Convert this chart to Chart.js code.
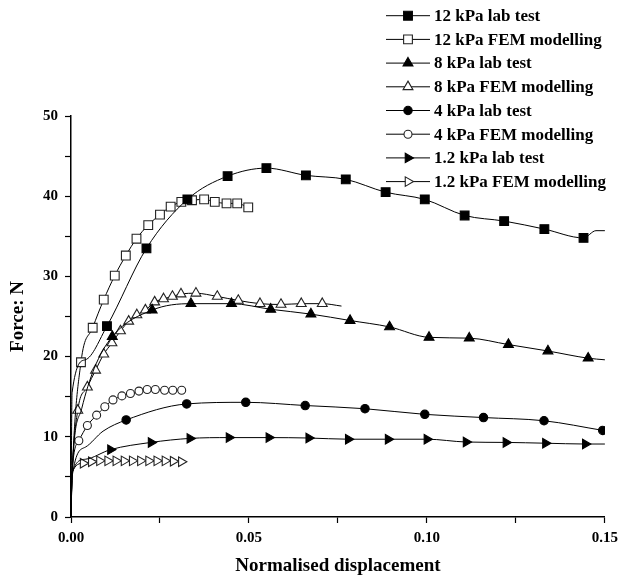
<!DOCTYPE html>
<html>
<head>
<meta charset="utf-8">
<script src="https://cdn.jsdelivr.net/npm/chart.js@4.4.1/dist/chart.umd.min.js"></script>
<style>
  html, body { margin: 0; padding: 0; background: #fff; }
  #wrap { width: 624px; height: 579px; }
</style>
</head>
<body>
<div id="wrap"><canvas id="forceChart" width="624" height="579"></canvas></div>
<script>
// values: lead = unmarked start, mark = points with symbols, tail = unmarked end
const seriesNames = ['12 kPa lab test', '12 kPa FEM modelling', '8 kPa lab test', '8 kPa FEM modelling',
                     '4 kPa lab test', '4 kPa FEM modelling', '1.2 kPa lab test', '1.2 kPa FEM modelling'];

const lab12LeadX = [0, 0.0003, 0.004];
const lab12LeadY = [0, 15.5, 19.6];
const lab12X = [0.0101, 0.0212, 0.0327, 0.0440, 0.0549, 0.0660, 0.0772, 0.0884, 0.0994, 0.1106, 0.1217, 0.1330, 0.1440];
const lab12Y = [23.8, 33.5, 39.6, 42.5, 43.5, 42.6, 42.1, 40.5, 39.6, 37.6, 36.9, 35.9, 34.8];
const lab12TailX = [0.1475, 0.15];
const lab12TailY = [35.7, 35.7];

const fem12LeadX = [0, 0.0003];
const fem12LeadY = [0, 5];
const fem12X = [0.0028, 0.0061, 0.0092, 0.0123, 0.0154, 0.0184, 0.0217, 0.0250, 0.0280, 0.0310, 0.0340, 0.0374, 0.0404, 0.0437, 0.0467, 0.0498];
const fem12Y = [19.3, 23.6, 27.1, 30.1, 32.6, 34.7, 36.4, 37.7, 38.7, 39.3, 39.5, 39.6, 39.3, 39.1, 39.1, 38.6];

const lab8LeadX = [0, 0.0003, 0.003, 0.0065];
const lab8LeadY = [0, 5.5, 13.5, 18.5];
const lab8X = [0.0116, 0.0228, 0.0337, 0.0451, 0.0561, 0.0674, 0.0784, 0.0895, 0.1006, 0.1119, 0.1229, 0.1340, 0.1453];
const lab8Y = [22.5, 25.8, 26.6, 26.6, 25.9, 25.3, 24.5, 23.7, 22.4, 22.3, 21.5, 20.7, 19.8];
const lab8TailX = [0.15];
const lab8TailY = [19.6];

const fem8LeadX = [0, 0.0003];
const fem8LeadY = [0, 5];
const fem8X = [0.0019, 0.0046, 0.0069, 0.0092, 0.0115, 0.0139, 0.0162, 0.0185, 0.0209, 0.0235, 0.0260, 0.0285, 0.0309, 0.0351, 0.0411, 0.0470, 0.0531, 0.0590, 0.0647, 0.0706];
const fem8Y = [13.3, 16.2, 18.3, 20.3, 21.7, 23.2, 24.4, 25.2, 25.8, 26.8, 27.2, 27.5, 27.8, 27.9, 27.5, 27.0, 26.6, 26.5, 26.6, 26.6];
const fem8TailX = [0.076];
const fem8TailY = [26.3];

const lab4LeadX = [0, 0.0003, 0.004, 0.009];
const lab4LeadY = [0, 5, 8.7, 10.7];
const lab4X = [0.0155, 0.0325, 0.0491, 0.0658, 0.0826, 0.0994, 0.1159, 0.1329, 0.1494];
const lab4Y = [12.1, 14.1, 14.3, 13.9, 13.5, 12.8, 12.4, 12.0, 10.8];

const fem4LeadX = [0, 0.0003];
const fem4LeadY = [0, 5.5];
const fem4X = [0.0022, 0.0046, 0.0072, 0.0095, 0.0118, 0.0143, 0.0167, 0.0191, 0.0214, 0.0237, 0.0263, 0.0286, 0.0311];
const fem4Y = [9.5, 11.4, 12.7, 13.75, 14.6, 15.1, 15.4, 15.7, 15.9, 15.9, 15.8, 15.8, 15.8];

const lab1LeadX = [0, 0.0003, 0.004];
const lab1LeadY = [0, 5.5, 7.2];
const lab1X = [0.0111, 0.0225, 0.0334, 0.0444, 0.0556, 0.0668, 0.0779, 0.0891, 0.1000, 0.1110, 0.1222, 0.1333, 0.1445];
const lab1Y = [8.4, 9.3, 9.8, 9.9, 9.9, 9.85, 9.7, 9.7, 9.7, 9.35, 9.3, 9.2, 9.1];
const lab1TailX = [0.15];
const lab1TailY = [9.1];

const fem1LeadX = [0, 0.0003];
const fem1LeadY = [0, 5.5];
const fem1X = [0.0034, 0.0057, 0.0080, 0.0103, 0.0126, 0.0149, 0.0172, 0.0195, 0.0218, 0.0241, 0.0264, 0.0287, 0.0310];
const fem1Y = [6.7, 6.9, 7.0, 7.0, 7.0, 7.0, 7.0, 7.0, 7.0, 7.0, 7.0, 6.95, 6.9];

const xTicks = [0, 0.05, 0.10, 0.15];
const yTicks = [0, 10, 20, 30, 40, 50];

function pts(xs, ys) {
  return xs.map((x, i) => ({ x: x, y: ys[i] }));
}

function makeSeries(label, lead, mark, tail, style, rot, rad, filled) {
  const data = pts(lead[0], lead[1]).concat(pts(mark[0], mark[1]), pts(tail[0], tail[1]));
  const first = lead[0].length, last = first + mark[0].length;
  return {
    label: label,
    data: data,
    borderColor: '#000',
    borderWidth: 1,
    pointStyle: style,
    pointRotation: rot,
    pointBackgroundColor: filled ? '#000' : '#fff',
    pointBorderColor: filled ? '#000' : '#222',
    pointBorderWidth: 1.1,
    pointRadius: (c) => (c.dataIndex >= first && c.dataIndex < last) ? rad : 0,
    pointHoverRadius: 0,
    cubicInterpolationMode: 'monotone',
    _legendRadius: rad,
    _filled: filled
  };
}

const datasets = [
  makeSeries(seriesNames[0], [lab12LeadX, lab12LeadY], [lab12X, lab12Y], [lab12TailX, lab12TailY], 'rect', 0, 6.2, true),
  makeSeries(seriesNames[1], [fem12LeadX, fem12LeadY], [fem12X, fem12Y], [[], []], 'rect', 0, 6.2, false),
  makeSeries(seriesNames[2], [lab8LeadX, lab8LeadY], [lab8X, lab8Y], [lab8TailX, lab8TailY], 'triangle', 0, 5.7, true),
  makeSeries(seriesNames[3], [fem8LeadX, fem8LeadY], [fem8X, fem8Y], [fem8TailX, fem8TailY], 'triangle', 0, 5.7, false),
  makeSeries(seriesNames[4], [lab4LeadX, lab4LeadY], [lab4X, lab4Y], [[], []], 'circle', 0, 4.2, true),
  makeSeries(seriesNames[5], [fem4LeadX, fem4LeadY], [fem4X, fem4Y], [[], []], 'circle', 0, 4, false),
  makeSeries(seriesNames[6], [lab1LeadX, lab1LeadY], [lab1X, lab1Y], [lab1TailX, lab1TailY], 'triangle', 90, 5.5, true),
  makeSeries(seriesNames[7], [fem1LeadX, fem1LeadY], [fem1X, fem1Y], [[], []], 'triangle', 90, 5.5, false)
];

// legend drawn by hand in the top right corner, over the plot
const cornerLegend = {
  id: 'cornerLegend',
  afterDraw(chart) {
    const ctx = chart.ctx;
    ctx.save();
    ctx.font = 'bold 17px "Liberation Serif", "Times New Roman", serif';
    ctx.textBaseline = 'middle';
    ctx.textAlign = 'left';
    chart.data.datasets.forEach((ds, i) => {
      const y = 15.7 + i * 23.7;
      ctx.strokeStyle = '#000';
      ctx.lineWidth = 1;
      ctx.beginPath();
      ctx.moveTo(386, y);
      ctx.lineTo(430, y);
      ctx.stroke();
      ctx.fillStyle = ds._filled ? '#000' : '#fff';
      ctx.strokeStyle = ds._filled ? '#000' : '#222';
      ctx.lineWidth = 1.1;
      Chart.helpers.drawPoint(ctx, {
        pointStyle: ds.pointStyle, rotation: ds.pointRotation,
        radius: ds._legendRadius, borderWidth: 1.1
      }, 408, y);
      ctx.fillStyle = '#000';
      ctx.fillText(ds.label, 434, y + 1);
    });
    ctx.restore();
  }
};

const serif = '"Liberation Serif", "Times New Roman", serif';

new Chart(document.getElementById('forceChart'), {
  type: 'line',
  data: { datasets: datasets },
  plugins: [cornerLegend],
  options: {
    responsive: false,
    animation: false,
    layout: { padding: { top: 116, right: 16, left: 0, bottom: 0 } },
    plugins: { legend: { display: false }, tooltip: { enabled: false } },
    scales: {
      x: {
        type: 'linear',
        min: 0, max: 0.15,
        afterFit: (s) => { s.height = 62; },
        ticks: {
          stepSize: 0.025,
          autoSkip: false,
          maxRotation: 0,
          padding: 6,
          color: '#000',
          font: { family: serif, size: 15, weight: 'bold' },
          callback: (v) => xTicks.some((t) => Math.abs(t - v) < 1e-9) ? v.toFixed(2) : ''
        },
        grid: { drawOnChartArea: false, drawTicks: true, tickLength: 6, color: '#000', tickWidth: 1.2 },
        border: { display: true, color: '#000', width: 1.5 },
        title: {
          display: true, text: 'Normalised displacement', color: '#000',
          font: { family: serif, size: 19, weight: 'bold' },
          padding: { top: 0, bottom: 2 }
        }
      },
      y: {
        min: 0, max: 50,
        afterFit: (s) => { s.width = 71; },
        ticks: {
          stepSize: 5,
          autoSkip: false,
          padding: 7,
          color: '#000',
          font: { family: serif, size: 15, weight: 'bold' },
          callback: (v) => yTicks.includes(v) ? String(v) : ''
        },
        grid: { drawOnChartArea: false, drawTicks: true, tickLength: 6, color: '#000', tickWidth: 1.2 },
        border: { display: true, color: '#000', width: 1.5 },
        title: {
          display: true, text: 'Force: N', color: '#000',
          font: { family: serif, size: 19, weight: 'bold' },
          padding: { top: 7, bottom: 0 }
        }
      }
    }
  }
});
</script>
</body>
</html>
